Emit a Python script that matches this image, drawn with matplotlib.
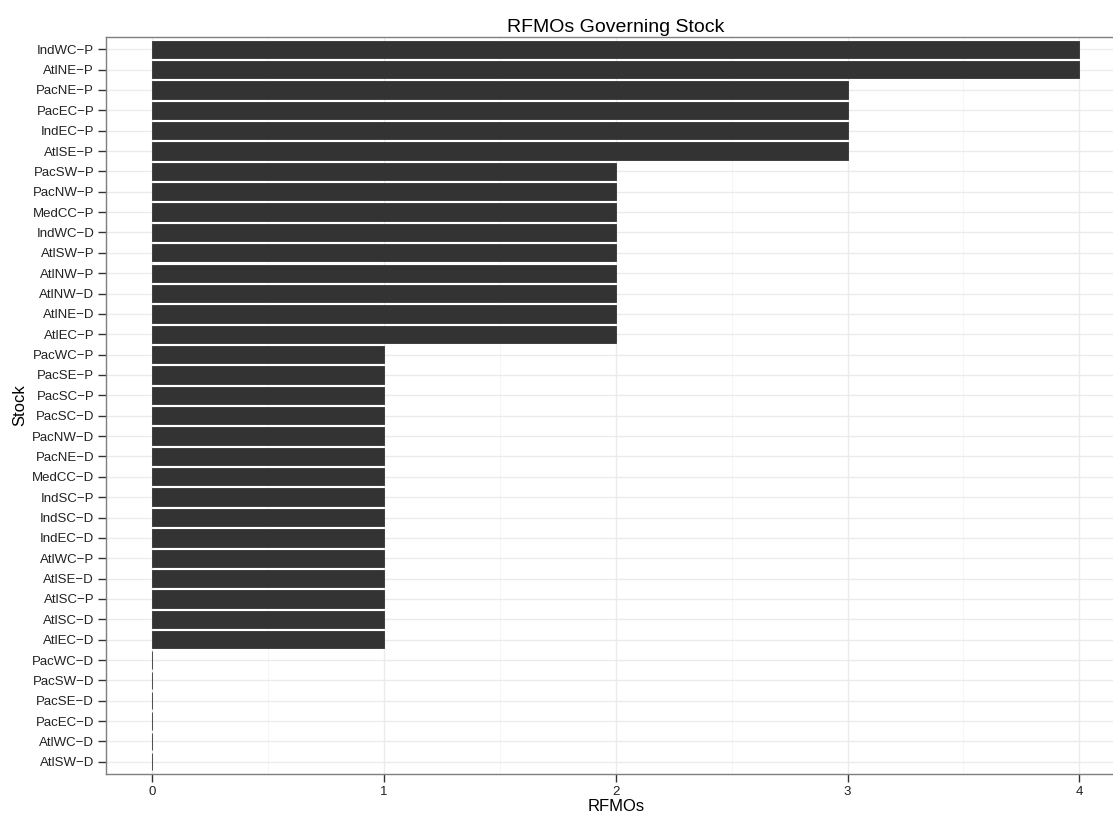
import matplotlib
matplotlib.use("Agg")
import matplotlib.pyplot as plt
import numpy as np

plt.rcParams['font.family'] = ['Liberation Sans', 'DejaVu Sans']

# stocks listed top to bottom
stocks = ["IndWC-P", "AtlNE-P", "PacNE-P", "PacEC-P", "IndEC-P", "AtlSE-P",
          "PacSW-P", "PacNW-P", "MedCC-P", "IndWC-D", "AtlSW-P", "AtlNW-P",
          "AtlNW-D", "AtlNE-D", "AtlEC-P", "PacWC-P", "PacSE-P", "PacSC-P",
          "PacSC-D", "PacNW-D", "PacNE-D", "MedCC-D", "IndSC-P", "IndSC-D",
          "IndEC-D", "AtlWC-P", "AtlSE-D", "AtlSC-P", "AtlSC-D", "AtlEC-D",
          "PacWC-D", "PacSW-D", "PacSE-D", "PacEC-D", "AtlWC-D", "AtlSW-D"]
rfmos = [4, 4, 3, 3, 3, 3,
         2, 2, 2, 2, 2, 2, 2, 2, 2,
         1, 1, 1, 1, 1, 1, 1, 1, 1, 1, 1, 1, 1, 1, 1,
         0, 0, 0, 0, 0, 0]
xticks = [0, 1, 2, 3, 4]

labels = [s.replace("-", "\u2212") for s in stocks]
n = len(stocks)
ypos = np.arange(n)[::-1]

fig = plt.figure(figsize=(11.13, 8.14), dpi=100)
ax = fig.add_axes([0.0952, 0.0491, 0.9162, 0.9054])

ax.barh(ypos, rfmos, height=0.85, color="#333333", edgecolor="#333333",
        linewidth=0.6, zorder=3)

ax.set_xlim(-0.2, 4.2)
ax.set_ylim(-0.6, n - 1 + 0.6)
ax.set_xticks(xticks)
ax.set_xticks(np.arange(0.5, 4.5, 1), minor=True)
ax.set_yticks(ypos)
ax.set_yticklabels(labels)

ax.grid(which="major", color="#EBEBEB", linewidth=1.0, zorder=0)
ax.grid(which="minor", axis="x", color="#F5F5F5", linewidth=0.6, zorder=0)
ax.set_axisbelow(True)
ax.tick_params(axis="both", which="major", length=5.5, width=1, color="#333333",
               labelsize=9.5, labelcolor="#222222", pad=3)
ax.tick_params(which="minor", length=0)
for sp in ax.spines.values():
    sp.set_color("#7F7F7F")
    sp.set_linewidth(1.0)
ax.spines["right"].set_visible(False)

ax.set_xlabel("RFMOs", fontsize=12, labelpad=1)
ax.set_ylabel("Stock", fontsize=12, labelpad=3)
ax.text(0.5, 1.0068, "RFMOs Governing Stock",
        transform=ax.transAxes, ha="center", va="baseline", fontsize=14)

fig.savefig("out.png", dpi=100)
